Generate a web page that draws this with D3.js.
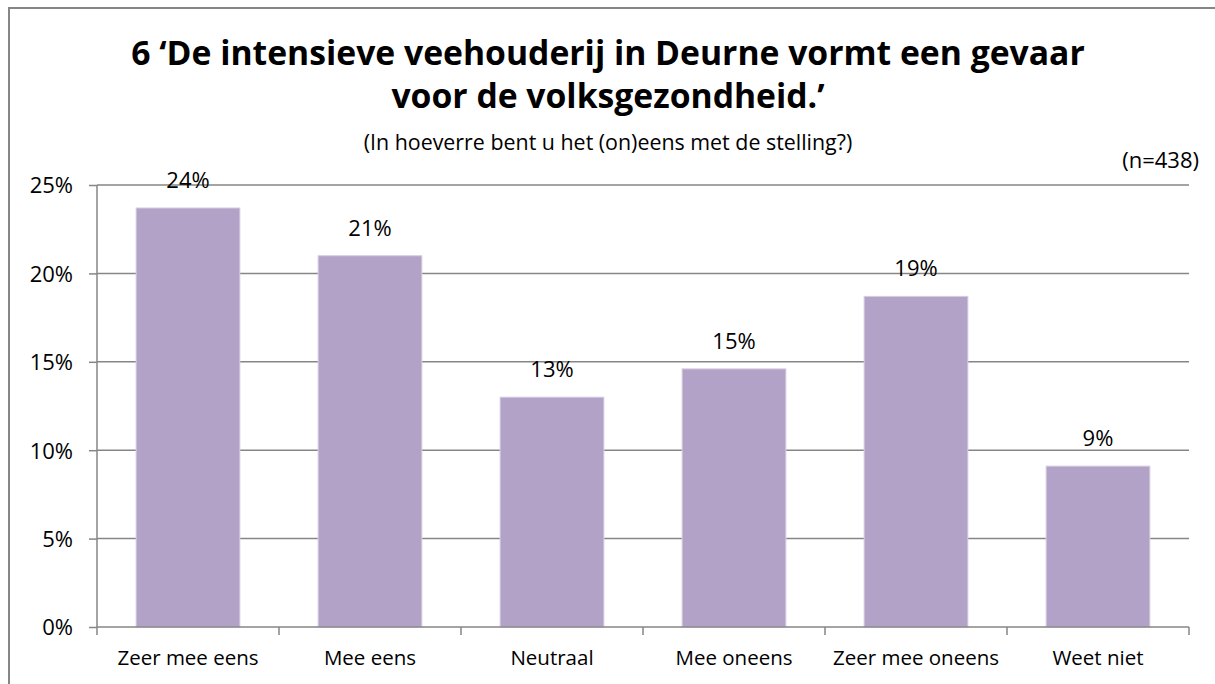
<!DOCTYPE html>
<html>
<head>
<meta charset="utf-8">
<script src="https://d3js.org/d3.v7.min.js"></script>
<style>
body {margin:0; background:white;}
text {font-family: "Open Sans", Lato, sans-serif; fill: black;}
</style>
</head>
<body>
<svg width="1215" height="684"></svg>
<script>
var categories = ["Zeer mee eens", "Mee eens", "Neutraal", "Mee oneens", "Zeer mee oneens", "Weet niet"];
var values = [23.7, 21.0, 13.0, 14.6, 18.7, 9.1];
var labels = ["24%", "21%", "13%", "15%", "19%", "9%"];
var yTicks = [0, 5, 10, 15, 20, 25];

var svg = d3.select("svg");
var plotL = 97, plotR = 1189, plotT = 185, plotB = 627;

// chart frame (runs off the right and bottom edge)
svg.append("rect")
  .attr("x", 9).attr("y", 8)
  .attr("width", 1240).attr("height", 700)
  .attr("fill", "white")
  .attr("stroke", "#868686").attr("stroke-width", 2);

var x = d3.scaleBand().domain(categories).range([plotL, plotR]).paddingInner(0.43).paddingOuter(0.215);
var xb = d3.scaleBand().domain(categories).range([plotL, plotR]);
var y = d3.scaleLinear().domain([0, 25]).range([plotB, plotT]);

// gridlines + y ticks
var ya = d3.axisLeft(y).tickValues(yTicks).tickSize(8).tickFormat(function(d) { return d + "%"; });
var gy = svg.append("g").attr("transform", "translate(" + plotL + ",0)").call(ya);
gy.select(".domain").remove();
gy.selectAll("line").attr("stroke", "#868686").attr("stroke-width", 1.5);
gy.selectAll("text").attr("x", -24).attr("dy", "0.36em")
  .style("font-size", "22px").style("font-family", "'Open Sans'").attr("fill", "black");
svg.append("g").selectAll("line").data(yTicks.filter(function(d) { return d > 0; })).enter()
  .append("line")
  .attr("x1", plotL).attr("x2", plotR)
  .attr("y1", function(d) { return y(d); }).attr("y2", function(d) { return y(d); })
  .attr("stroke", "#868686").attr("stroke-width", 1.5);

// bars
svg.append("g").selectAll("rect").data(values).enter()
  .append("rect")
  .attr("x", function(d, i) { return x(categories[i]); })
  .attr("width", x.bandwidth())
  .attr("y", function(d) { return y(d); })
  .attr("height", function(d) { return y(0) - y(d); })
  .attr("fill", "#b3a2c7")
  .attr("stroke", "#d6cde2").attr("stroke-width", 1);

// value labels
svg.append("g").selectAll("text").data(values).enter()
  .append("text")
  .attr("x", function(d, i) { return x(categories[i]) + x.bandwidth() / 2; })
  .attr("y", function(d) { return y(d) - 20; })
  .attr("text-anchor", "middle")
  .style("font-size", "22px")
  .text(function(d, i) { return labels[i]; });

// axis lines and category ticks
svg.append("line").attr("x1", plotL).attr("x2", plotL).attr("y1", plotT).attr("y2", plotB)
  .attr("stroke", "#868686").attr("stroke-width", 1.5);
svg.append("line").attr("x1", plotL).attr("x2", plotR).attr("y1", plotB).attr("y2", plotB)
  .attr("stroke", "#868686").attr("stroke-width", 1.5);
var bounds = categories.map(function(c) { return xb(c); }).concat([plotR]);
svg.append("g").selectAll("line").data(bounds).enter()
  .append("line")
  .attr("x1", function(d) { return d; }).attr("x2", function(d) { return d; })
  .attr("y1", plotB).attr("y2", plotB + 8)
  .attr("stroke", "#868686").attr("stroke-width", 1.5);
svg.append("g").selectAll("text").data(categories).enter()
  .append("text")
  .attr("x", function(d) { return xb(d) + xb.bandwidth() / 2; })
  .attr("y", 665)
  .attr("text-anchor", "middle")
  .style("font-size", "20.5px")
  .text(function(d) { return d; });

// titles
svg.append("text").attr("x", 608).attr("y", 65).attr("text-anchor", "middle")
  .style("font-size", "33.7px").style("font-weight", "bold")
  .text("6 \u2018De intensieve veehouderij in Deurne vormt een gevaar");
svg.append("text").attr("x", 608).attr("y", 108).attr("text-anchor", "middle")
  .style("font-size", "33.7px").style("font-weight", "bold")
  .text("voor de volksgezondheid.\u2019");
svg.append("text").attr("x", 608).attr("y", 150).attr("text-anchor", "middle")
  .style("font-size", "21.4px")
  .text("(In hoeverre bent u het (on)eens met de stelling?)");
svg.append("text").attr("x", 1199).attr("y", 168).attr("text-anchor", "end")
  .style("font-size", "22px")
  .text("(n=438)");
</script>
</body>
</html>
